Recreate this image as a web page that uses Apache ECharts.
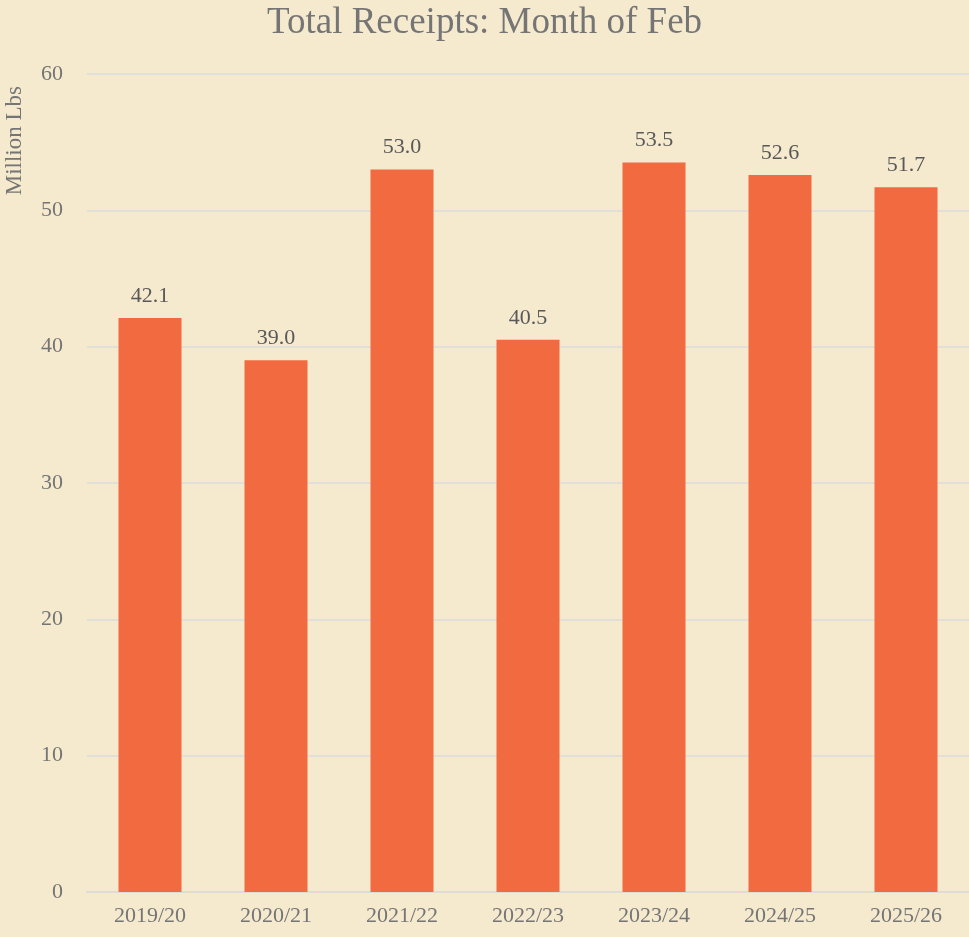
<!DOCTYPE html>
<html><head><meta charset="utf-8">
<script src="https://cdn.jsdelivr.net/npm/echarts@6/dist/echarts.min.js"></script>
<style>html,body{margin:0;padding:0;background:#F5E9CE;}#c{width:969px;height:937px;}</style>
</head><body><div id="c"></div>
<script>
const categories = ['2019/20','2020/21','2021/22','2022/23','2023/24','2024/25','2025/26'];
const receipts = [42.1, 39.0, 53.0, 40.5, 53.5, 52.6, 51.7];
const titleText = 'Total Receipts: Month of Feb';
const yAxisName = 'Million Lbs';

const chart = echarts.init(document.getElementById('c'), null, {renderer:'canvas'});
const serif = '"Liberation Serif", "DejaVu Serif", serif';
chart.setOption({
  backgroundColor: '#F5E9CE',
  animation: false,
  title: {
    text: titleText, left: 'center', top: 0,
    textStyle: {fontFamily: serif, fontSize: 37, fontWeight: 'normal', color: '#757575'}
  },
  grid: {left: 87, right: 0, top: 74, bottom: 45},
  xAxis: {
    type: 'category', data: categories,
    axisLine: {lineStyle: {color: '#DEDCD6', width: 2}},
    axisTick: {show: false},
    axisLabel: {fontFamily: serif, fontSize: 22, color: '#757575', margin: 13}
  },
  yAxis: {
    type: 'value', min: 0, max: 60, interval: 10,
    axisLine: {show: false}, axisTick: {show: false},
    splitLine: {lineStyle: {color: '#E1DFD9', width: 2}},
    axisLabel: {fontFamily: serif, fontSize: 22, color: '#757575', margin: 24}
  },
  graphic: [{
    type: 'text', left: 3, top: 86, rotation: Math.PI/2,
    style: {text: yAxisName, fontFamily: serif, fontSize: 23, fill: '#757575'}
  }],
  series: [{
    type: 'bar', data: receipts, barWidth: '50%',
    itemStyle: {color: '#F26A3F'},
    label: {show: true, position: 'top', distance: 11, formatter: p => p.value.toFixed(1),
      fontFamily: serif, fontSize: 22, color: '#595959'}
  }]
});
</script></body></html>
